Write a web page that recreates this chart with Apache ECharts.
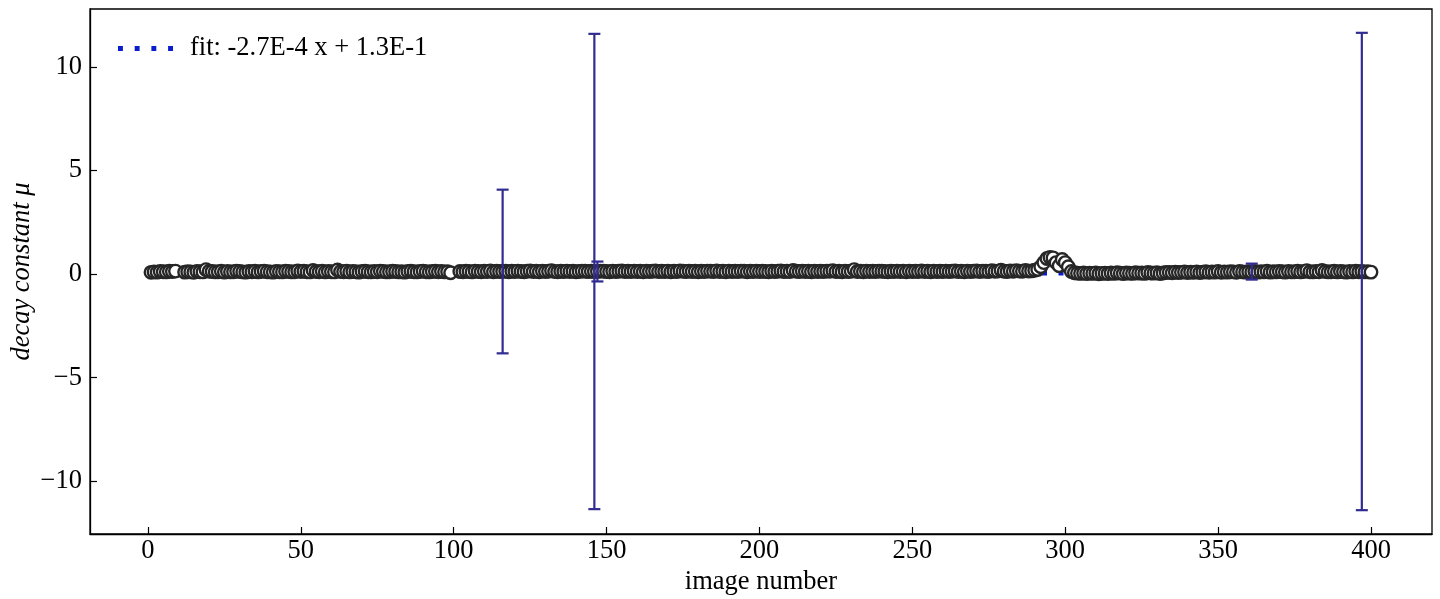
<!DOCTYPE html>
<html>
<head>
<meta charset="utf-8">
<script src="https://cdn.jsdelivr.net/npm/echarts@6/dist/echarts.min.js"></script>
<style>
html,body{margin:0;padding:0;background:#fff;}
#chart{width:1440px;height:599px;}
</style>
</head>
<body>
<div id="chart"></div>
<script>
// ---- data ----
// decay constant per image number 1..400 (null = missing image)
const decayValues = [
  0.08,0.10,0.09,0.12,0.11,0.10,0.13,0.12,0.14,null,null,0.09,0.11,0.10,0.08,0.12,0.11,0.10,0.21,0.13,
  0.12,0.10,0.11,0.13,0.09,0.12,0.10,0.11,0.14,0.12,0.10,0.09,0.12,0.11,0.13,0.10,0.12,0.14,0.11,0.10,
  0.09,0.12,0.11,0.10,0.13,0.12,0.10,0.11,0.15,0.12,0.13,0.11,0.10,0.17,0.12,0.11,0.13,0.10,0.12,0.11,
  0.10,0.19,0.12,0.11,0.13,0.10,0.12,0.11,0.09,0.12,0.13,0.11,0.10,0.12,0.11,0.14,0.12,0.10,0.11,0.13,
  0.12,0.10,0.11,0.09,0.12,0.13,0.11,0.10,0.12,0.14,0.11,0.10,0.12,0.13,0.11,0.12,0.10,0.11,0.06,null,
  null,0.12,0.11,0.13,0.12,0.10,0.14,0.12,0.11,0.13,0.12,0.15,0.11,0.13,0.12,0.12,0.14,0.11,0.13,0.12,
  0.14,0.12,0.11,0.13,0.15,0.12,0.13,0.11,0.14,0.12,0.13,0.16,0.12,0.11,0.13,0.12,0.14,0.12,0.13,0.11,
  0.12,0.14,0.13,0.12,0.13,0.12,0.12,0.14,0.13,0.12,0.11,0.14,0.12,0.13,0.15,0.12,0.13,0.12,0.14,0.12,
  0.13,0.11,0.14,0.12,0.13,0.15,0.12,0.13,0.12,0.14,0.11,0.13,0.12,0.15,0.13,0.12,0.14,0.12,0.13,0.11,
  0.13,0.12,0.14,0.13,0.12,0.15,0.12,0.13,0.11,0.14,0.12,0.13,0.12,0.14,0.13,0.11,0.13,0.12,0.14,0.12,
  0.13,0.12,0.11,0.14,0.12,0.13,0.15,0.12,0.13,0.12,0.17,0.13,0.12,0.14,0.12,0.13,0.11,0.14,0.12,0.13,
  0.12,0.14,0.13,0.16,0.12,0.13,0.11,0.14,0.12,0.13,0.21,0.12,0.13,0.11,0.14,0.12,0.13,0.12,0.14,0.13,
  0.12,0.11,0.13,0.12,0.14,0.12,0.13,0.11,0.14,0.12,0.13,0.12,0.15,0.12,0.13,0.11,0.14,0.12,0.13,0.12,
  0.14,0.12,0.13,0.15,0.12,0.13,0.11,0.14,0.12,0.13,0.15,0.12,0.14,0.13,0.12,0.16,0.13,0.14,0.18,0.13,
  0.12,0.15,0.13,0.16,0.14,0.13,0.17,0.14,0.15,0.18,0.22,0.35,0.55,0.75,0.80,0.78,0.55,0.40,0.70,0.55,
  0.35,0.12,0.06,0.04,0.03,0.05,0.02,0.04,0.03,0.05,0.01,0.03,0.04,0.02,0.05,0.03,0.06,0.04,0.02,0.05,
  0.04,0.03,0.06,0.04,0.05,0.03,0.07,0.05,0.04,0.06,0.02,0.05,0.07,0.08,0.06,0.09,0.07,0.08,0.10,0.07,
  0.09,0.08,0.10,0.07,0.09,0.11,0.08,0.10,0.09,0.12,0.08,0.10,0.09,0.11,0.10,0.08,0.12,0.10,0.09,0.11,
  0.10,0.12,0.09,0.11,0.10,0.13,0.09,0.11,0.10,0.12,0.11,0.09,0.12,0.10,0.11,0.13,0.10,0.12,0.16,0.11,
  0.10,0.12,0.11,0.17,0.12,0.10,0.11,0.13,0.10,0.12,0.11,0.09,0.12,0.10,0.13,0.11,0.12,0.10,0.11,0.09
];
const firstImage = 1;

// error bars (only visible ones)
const errX    = [116, 146, 147, 361, 397];
const errLow  = [-3.83, -11.35, -0.36, -0.27, -11.40];
const errHigh = [4.07, 11.59, 0.60, 0.50, 11.64];

// linear fit
const fitSlope = -2.7e-4;
const fitIntercept = 1.3e-1;
const fitLabel = 'fit: -2.7E-4 x + 1.3E-1';

// axis ticks
const xTicks = [0, 50, 100, 150, 200, 250, 300, 350, 400];
const yTicks = [-10, -5, 0, 5, 10];

// ---- build ----
const points = decayValues.map((v, i) => [firstImage + i, v]);
const lastImage = firstImage + decayValues.length - 1;
const fitData = [
  [firstImage, fitSlope * firstImage + fitIntercept],
  [lastImage, fitSlope * lastImage + fitIntercept]
];
const errData = errX.map((x, i) => [x, errLow[i], errHigh[i]]);

const FONT = 'Liberation Serif';
const FS = 26.5;
const ERR_COLOR = '#312c90';
const FIT_COLOR = '#0a1ccc';
// legend sample: four square dots
const DOTS_ICON = 'path://M0,0h5v5h-5z M17,0h5v5h-5z M34,0h5v5h-5z M51,0h5v5h-5z';

const chart = echarts.init(document.getElementById('chart'), null, {renderer: 'canvas'});
chart.setOption({
  animation: false,
  backgroundColor: '#fff',
  grid: {left: 90, right: 8, top: 9, bottom: 65, show: true, borderColor: '#000', borderWidth: 1.3,
    backgroundColor: 'transparent', containLabel: false, outerBoundsMode: 'none'},
  legend: {
    show: true,
    left: 113,
    top: 30,
    itemWidth: 55,
    itemHeight: 6,
    icon: DOTS_ICON,
    data: [{name: fitLabel, icon: DOTS_ICON, itemStyle: {color: FIT_COLOR, borderWidth: 0}}],
    textStyle: {fontFamily: FONT, fontSize: FS, color: '#000', padding: [0, 0, 0, 12]}
  },
  xAxis: {
    type: 'value',
    min: -18.95,
    max: 419.95,
    name: 'image number',
    nameLocation: 'middle',
    nameGap: 35,
    nameMoveOverlap: false,
    nameTextStyle: {fontFamily: FONT, fontSize: FS, color: '#000'},
    axisLine: {show: true, onZero: false, lineStyle: {color: '#000', width: 1.3}},
    axisTick: {show: true, inside: true, length: 7, lineStyle: {color: '#000', width: 1.2}, customValues: xTicks},
    axisLabel: {show: true, fontFamily: FONT, fontSize: FS, color: '#000', margin: 4, customValues: xTicks},
    splitLine: {show: false}
  },
  yAxis: {
    type: 'value',
    min: -12.55,
    max: 12.79,
    name: 'decay constant μ',
    nameLocation: 'middle',
    nameGap: 54,
    nameMoveOverlap: false,
    nameTextStyle: {fontFamily: FONT, fontSize: FS, color: '#000', fontStyle: 'italic'},
    axisLine: {show: true, onZero: false, lineStyle: {color: '#000', width: 1.3}},
    axisTick: {show: true, inside: true, length: 7, lineStyle: {color: '#000', width: 1.2}, customValues: yTicks},
    axisLabel: {show: true, fontFamily: FONT, fontSize: FS, color: '#000', margin: 8, customValues: yTicks,
      formatter: v => String(v).replace('-', '\u2212')},
    splitLine: {show: false}
  },
  series: [
    {
      name: fitLabel,
      type: 'line',
      data: fitData,
      symbol: 'none',
      z: 1,
      lineStyle: {color: FIT_COLOR, width: 5, type: [5, 11.5], cap: 'butt'},
      itemStyle: {color: FIT_COLOR}
    },
    {
      name: 'data',
      type: 'scatter',
      data: points,
      symbol: 'circle',
      symbolSize: 12.5,
      z: 2,
      large: false,
      progressive: 0,
      itemStyle: {color: '#fff', borderColor: '#262626', borderWidth: 2.4, opacity: 1}
    },
    {
      name: 'errors',
      type: 'custom',
      z: 3,
      data: errData,
      encode: {x: 0, y: [1, 2]},
      renderItem: function (params, api) {
        const x = api.value(0);
        const lo = api.coord([x, api.value(1)]);
        const hi = api.coord([x, api.value(2)]);
        const cap = 6;
        const st = {stroke: ERR_COLOR, lineWidth: 2.2};
        return {
          type: 'group',
          children: [
            {type: 'line', shape: {x1: lo[0], y1: lo[1], x2: hi[0], y2: hi[1]}, style: st},
            {type: 'line', shape: {x1: lo[0] - cap, y1: lo[1], x2: lo[0] + cap, y2: lo[1]}, style: st},
            {type: 'line', shape: {x1: hi[0] - cap, y1: hi[1], x2: hi[0] + cap, y2: hi[1]}, style: st}
          ]
        };
      }
    }
  ]
});
</script>
</body>
</html>
